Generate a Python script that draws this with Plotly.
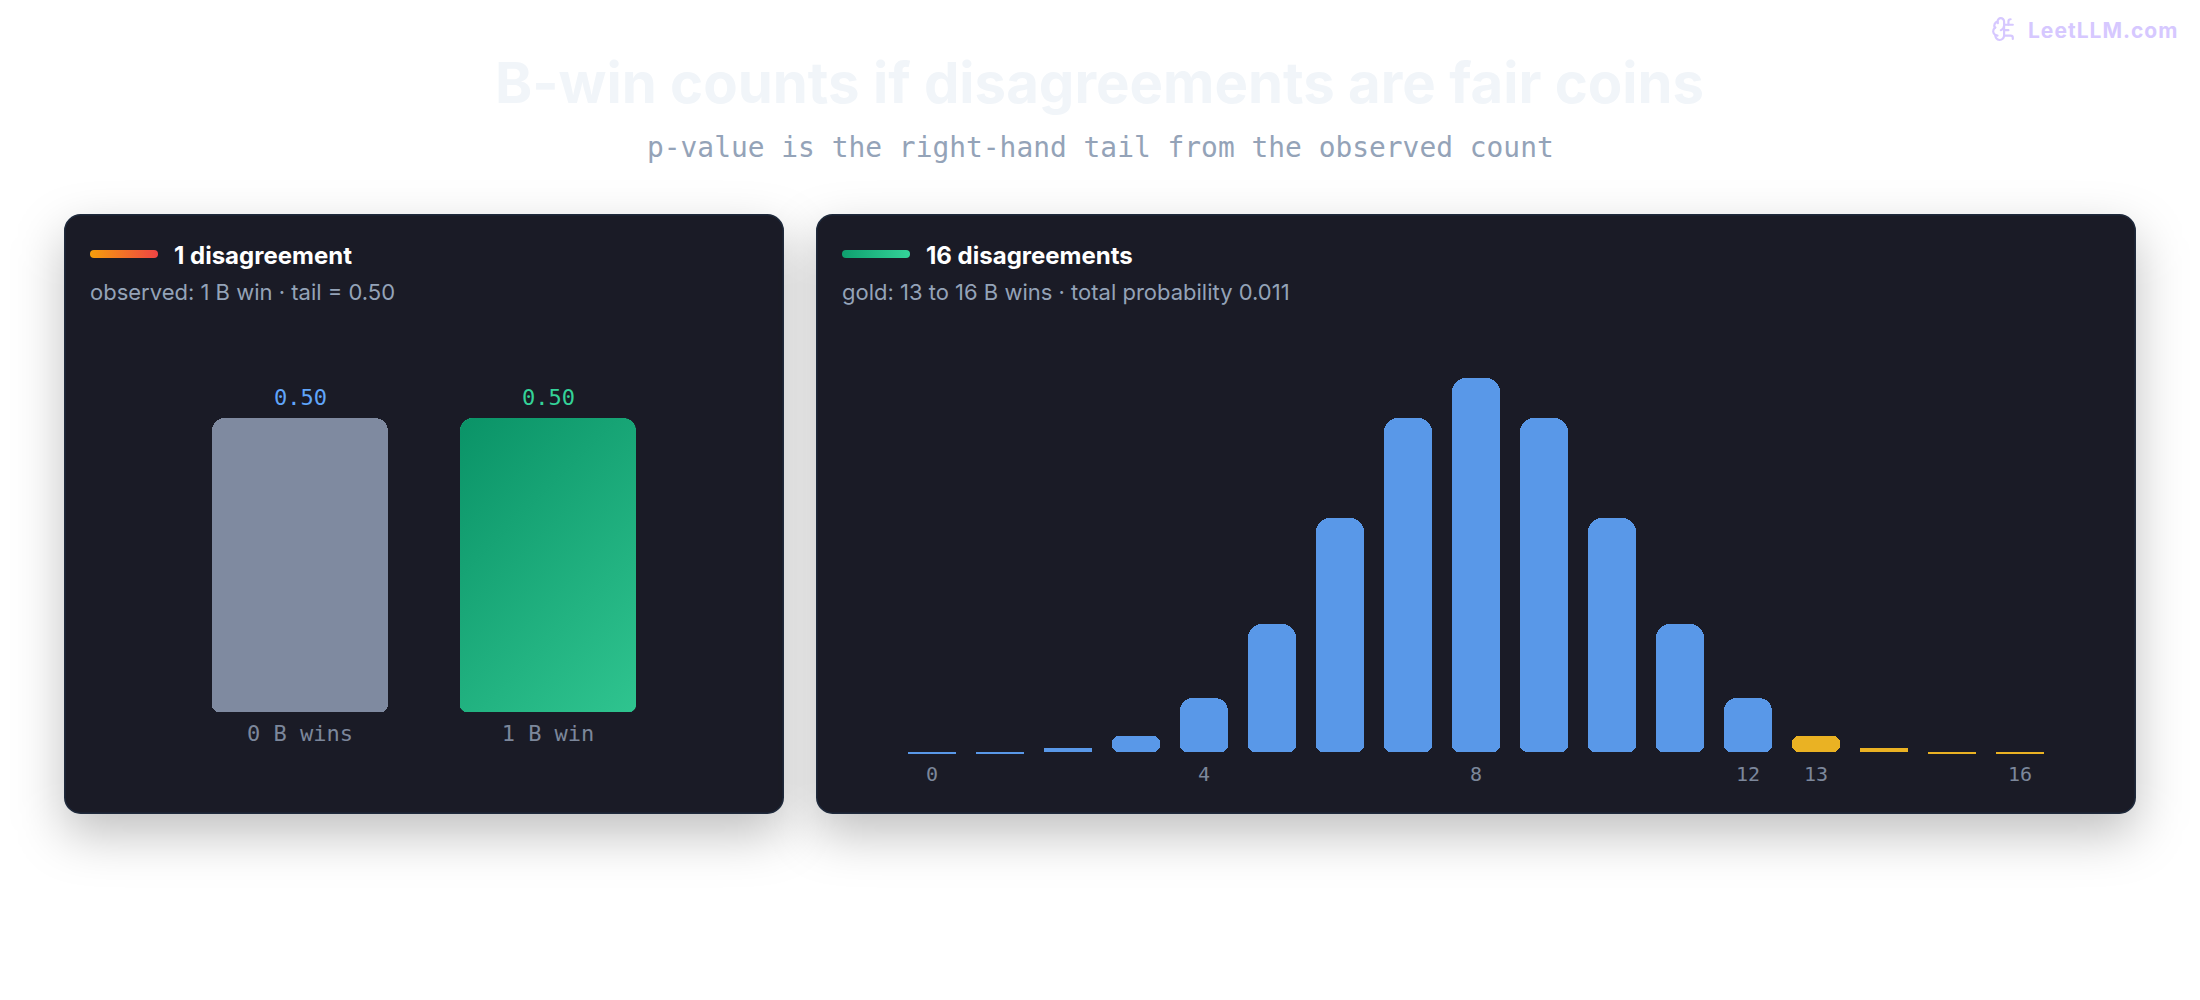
import base64

import plotly.graph_objects as go

# ------------------------------------------------------------------
# Data
# ------------------------------------------------------------------
left_x = [0, 1]
left_values = [0.50, 0.50]
left_labels = ["0 B wins", "1 B win"]
left_colors = ["#7F8AA0", "#1DA87A"]
left_value_colors = ["#60A5FA", "#34D399"]

right_x = list(range(17))
right_values = [0.00002, 0.00024, 0.0021, 0.0084, 0.0284, 0.0672, 0.1229, 0.1754, 0.1964,
                0.1754, 0.1229, 0.0672, 0.0284, 0.0084, 0.0021, 0.00024, 0.00002]
right_colors = ["#5998E8"] * 13 + ["#EAB223"] * 4
right_tickvals = [0, 4, 8, 12, 13, 16]
right_ticktext = ["0", "4", "8", "12", "13", "16"]

W, H = 2200, 1000
LEFT_PX_PER_UNIT = 294 / 0.50
RIGHT_PX_PER_UNIT = 374 / 0.1964
MONO = "DejaVu Sans Mono"
SANS = "Inter"


def svg_uri(svg):
    return "data:image/svg+xml;base64," + base64.b64encode(svg.encode()).decode()


# ------------------------------------------------------------------
# Card backdrop: shadows, cards, accent pills, watermark icon
# ------------------------------------------------------------------
def card(x, w):
    return (f'<rect x="{x}" y="214" width="{w}" height="600" rx="16" fill="#000" fill-opacity="0.25" '
            f'transform="translate(0 20)" filter="url(#blur)"/>'
            f'<rect x="{x + 0.75}" y="214.75" width="{w - 1.5}" height="598.5" rx="16" fill="#1A1B26" '
            f'stroke="#1E293B" stroke-width="1.5"/>')


backdrop = f'''<svg xmlns="http://www.w3.org/2000/svg" width="{W}" height="{H}" viewBox="0 0 {W} {H}">
<defs>
<filter id="blur" filterUnits="userSpaceOnUse" x="0" y="0" width="{W}" height="{H}"><feGaussianBlur stdDeviation="25"/></filter>
<linearGradient id="warm" x1="0" x2="1" y1="0" y2="0"><stop offset="0" stop-color="#F59E0B"/><stop offset="1" stop-color="#EF4444"/></linearGradient>
<linearGradient id="cool" x1="0" x2="1" y1="0" y2="0"><stop offset="0" stop-color="#0E9F6E"/><stop offset="1" stop-color="#34D399"/></linearGradient>
</defs>
{card(64, 720)}
{card(816, 1320)}
<rect x="90" y="250" width="68" height="8" rx="4" fill="url(#warm)"/>
<rect x="842" y="250" width="68" height="8" rx="4" fill="url(#cool)"/>
<g transform="translate(1991 16) scale(1.09)" fill="none" stroke="#D6C8FF" stroke-width="2" stroke-linecap="round" stroke-linejoin="round">
<path d="M12 5a3 3 0 1 0-5.997.125 4 4 0 0 0-2.526 5.77 4 4 0 0 0 .556 6.588A4 4 0 1 0 12 18Z"/>
<path d="M9 13a4.5 4.5 0 0 0 3-4"/><path d="M6.003 5.125A3 3 0 0 0 6.401 6.5"/>
<path d="M3.477 10.896a4 4 0 0 1 .585-.396"/><path d="M6 18a4 4 0 0 1-1.967-.516"/>
<path d="M12 13h4"/><path d="M12 18h6a2 2 0 0 1 2 2v1"/><path d="M12 8h8"/><path d="M16 8V5a2 2 0 0 1 2-2"/>
</g>
</svg>'''

# diagonal gradient laid over the green bar (css 135deg on a 176x294 box)
green_fill = '''<svg xmlns="http://www.w3.org/2000/svg" width="176" height="294" viewBox="0 0 176 294">
<defs><linearGradient id="g" gradientUnits="userSpaceOnUse" x1="-29.5" y1="29.5" x2="205.5" y2="264.5">
<stop offset="0" stop-color="#0A9367"/><stop offset="1" stop-color="#2FC48F"/></linearGradient></defs>
<path fill="url(#g)" d="M13 0H163A13 13 0 0 1 176 13V287A7 7 0 0 1 169 294H7A7 7 0 0 1 0 287V13A13 13 0 0 1 13 0Z"/>
</svg>'''

fig = go.Figure()


def bar_piece(x, base, height, radius, color, width, xaxis, yaxis):
    fig.add_trace(go.Bar(x=[x], y=[height], base=[base], width=width, xaxis=xaxis, yaxis=yaxis,
                         marker=dict(color=color, line_width=0, cornerradius=radius),
                         cliponaxis=False, showlegend=False, hoverinfo="skip"))


# A bar with an explicit base gets the same radius at both ends, and the reference has
# rounder tops than bottoms, so tall bars are an upper piece, a lower piece and a filler
def add_bar(x, value, color, width, px_per_unit, xaxis, yaxis, top_r=14):
    height_px = value * px_per_unit
    if height_px < 2:
        # slivers keep a 2px minimum and hang under the baseline
        bar_piece(x, -2 / px_per_unit, 2 / px_per_unit, 0, color, width, xaxis, yaxis)
    elif height_px < 50:
        bar_piece(x, 0, value, height_px / 2 - 0.5, color, width, xaxis, yaxis)
    else:
        half = value / 2
        bar_piece(x, half, half, min(top_r, height_px / 4.1), color, width, xaxis, yaxis)
        bar_piece(x, 0, half, 7, color, width, xaxis, yaxis)
        bar_piece(x, half / 2, half, 0, color, width, xaxis, yaxis)


for x, v, c in zip(left_x, left_values, left_colors):
    add_bar(x, v, c, 176 / 248, LEFT_PX_PER_UNIT, "x", "y", top_r=13)
for x, v, c in zip(right_x, right_values, right_colors):
    add_bar(x, v, c, 48 / 68, RIGHT_PX_PER_UNIT, "x2", "y2")

images = [
    dict(source=svg_uri(backdrop), xref="paper", yref="paper", x=0, y=1, sizex=1, sizey=1,
         xanchor="left", yanchor="top", sizing="stretch", layer="below"),
    dict(source=svg_uri(green_fill), xref="x", yref="y", x=left_x[1], y=left_values[1],
         sizex=176 / 248, sizey=left_values[1], xanchor="center", yanchor="top",
         sizing="stretch", layer="above"),
]


def note(text, x, y, size, color, family=SANS, weight=400, anchor="left"):
    return dict(text=text, x=x / W, y=1 - y / H, xref="paper", yref="paper", showarrow=False,
                xanchor=anchor, yanchor="middle", align=anchor,
                font=dict(family=family, size=size, color=color, weight=weight))


annotations = [
    note("B-win counts if disagreements are fair coins", 1099, 83, 56.3, "#F1F5F9", weight=700, anchor="center"),
    note("p-value is the right-hand tail from the observed count", 1100, 147, 27.9, "#94A3B8", MONO, anchor="center"),
    note("LeetLLM.com", 2180, 30, 21, "#D6C8FF", weight=700, anchor="right"),
    note("1 disagreement", 171.5, 255, 24, "#FFFFFF", weight=700),
    note("observed: 1 B win · tail = 0.50", 87.5, 292, 22, "#94A3B8"),
    note("16 disagreements", 923.5, 255, 24, "#FFFFFF", weight=700),
    note("gold: 13 to 16 B wins · total probability 0.011", 839.5, 292, 22, "#94A3B8"),
]
for x, v, c in zip(left_x, left_values, left_value_colors):
    annotations.append(dict(text=f"{v:.2f}", x=x, y=v, xref="x", yref="y", yshift=21, showarrow=False,
                            font=dict(family=MONO, size=22, color=c)))


def px_domain(a, b, total):
    return [a / total, b / total]


hidden_y = dict(visible=False, showgrid=False, zeroline=False, fixedrange=True)
fig.update_layout(
    width=W, height=H, margin=dict(l=0, r=0, t=0, b=0), autosize=False,
    paper_bgcolor="#FFFFFF", plot_bgcolor="rgba(0,0,0,0)",
    barmode="overlay", bargap=0, showlegend=False,
    images=images, annotations=annotations,
    xaxis=dict(domain=px_domain(64, 784, W), range=[-236 / 248, 1 + 236 / 248], showgrid=False, zeroline=False,
               tickmode="array", tickvals=left_x, ticktext=left_labels, ticks="", ticklabelstandoff=6,
               tickfont=dict(family=MONO, size=22, color="#7C879B")),
    yaxis=dict(domain=[1 - 712 / H, 1 - 372 / H], range=[0, 340 / LEFT_PX_PER_UNIT], **hidden_y),
    xaxis2=dict(domain=px_domain(816, 2136, W), range=[-116 / 68, 1204 / 68], showgrid=False, zeroline=False,
                anchor="y2", tickmode="array", tickvals=right_tickvals, ticktext=right_ticktext, ticks="",
                ticklabelstandoff=4, tickfont=dict(family=MONO, size=20, color="#7C879B")),
    # axis starts 4px under the baseline so the slivers stay inside the range
    yaxis2=dict(domain=[1 - 756 / H, 1 - 300 / H], range=[-4 / RIGHT_PX_PER_UNIT, 452 / RIGHT_PX_PER_UNIT],
                anchor="x2", **hidden_y),
)

# plotly has no letter spacing option, the watermark needs a little of it
fix_page = """
document.body.style.margin='0';
document.documentElement.style.overflow='hidden';
document.querySelectorAll('.annotation-text').forEach(function(t){
  if(t.textContent.indexOf('LeetLLM')===0){t.style.letterSpacing='1px';}
});
"""
fig.write_html("out.html", config={"displayModeBar": False}, post_script=fix_page)
